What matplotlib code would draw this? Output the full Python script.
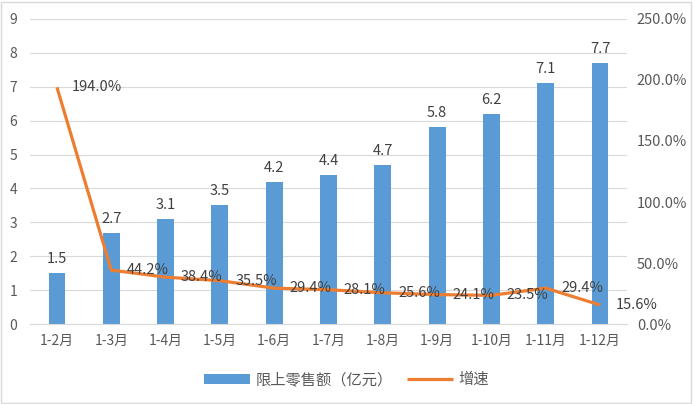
import numpy as np
import matplotlib.pyplot as plt
from matplotlib.ticker import FuncFormatter
from matplotlib.patches import Rectangle

plt.rcParams['font.family'] = ['Noto Sans CJK SC', 'DejaVu Sans']

# ---------------- data ----------------
months = ["1-2月", "1-3月", "1-4月", "1-5月", "1-6月", "1-7月",
          "1-8月", "1-9月", "1-10月", "1-11月", "1-12月"]
sales = [1.5, 2.7, 3.1, 3.5, 4.2, 4.4, 4.7, 5.8, 6.2, 7.1, 7.7]          # 亿元
growth = [194.0, 44.2, 38.4, 35.5, 29.4, 28.1, 25.6, 24.1, 23.5, 29.4, 15.6]  # %

BAR_C = "#5B9BD5"
LINE_C = "#ED7D31"
TXT_C = "#404040"
TICK_C = "#595959"
GRID_C = "#D9D9D9"

x = np.arange(len(months))

fig = plt.figure(figsize=(6.93, 4.04), dpi=100)
ax = fig.add_axes([0.043, 0.198, 0.862, 0.755])
ax2 = ax.twinx()

bars = ax.bar(x, sales, width=0.31, color=BAR_C, zorder=2, label="限上零售额（亿元）")
for xi, v in zip(x, sales):
    ax.annotate(f"{v:.1f}", (xi, v), xytext=(0, 5), textcoords="offset points",
                ha="center", va="bottom", fontsize=10.5, color=TXT_C)

ln, = ax2.plot(x, growth, color=LINE_C, lw=2.3, zorder=3, label="增速",
               solid_capstyle="butt")
for xi, v in zip(x, growth):
    ax2.annotate(f"{v:.1f}%", (xi, v), xytext=(11, 0), textcoords="offset points",
                 ha="left", va="center", fontsize=10.5, color=TXT_C)

ax.set_xlim(-0.5, len(months) - 0.5)
ax.set_ylim(0, 9)
ax.set_yticks(range(0, 10))
ax2.set_ylim(0, 250)
ax2.set_yticks(range(0, 251, 50))
ax2.yaxis.set_major_formatter(FuncFormatter(lambda v, p: f"{v:.1f}%"))

ax.set_xticks(x)
ax.set_xticklabels(months)
ax.grid(axis="y", color=GRID_C, lw=0.8, zorder=0)
ax.set_axisbelow(True)

for a in (ax, ax2):
    for s in a.spines.values():
        s.set_visible(False)
    a.tick_params(length=0, colors=TICK_C, labelsize=10)
ax.spines["bottom"].set_visible(True)
ax.spines["bottom"].set_color(GRID_C)
ax.tick_params(axis="y", pad=9)
ax.tick_params(axis="x", pad=7)
ax2.tick_params(axis="y", pad=7, labelsize=10.5)

fig.legend(handles=[bars, ln], loc="center", bbox_to_anchor=(0.5, 0.06),
           ncol=2, frameon=False, fontsize=11, labelcolor=TICK_C,
           handlelength=3.0, handleheight=0.6, handletextpad=0.4,
           columnspacing=0.9)

fig.patches.append(Rectangle((0.002, 0.003), 0.995, 0.993, transform=fig.transFigure,
                             fill=False, edgecolor=GRID_C, lw=1))

fig.savefig("out.png", dpi=100)
